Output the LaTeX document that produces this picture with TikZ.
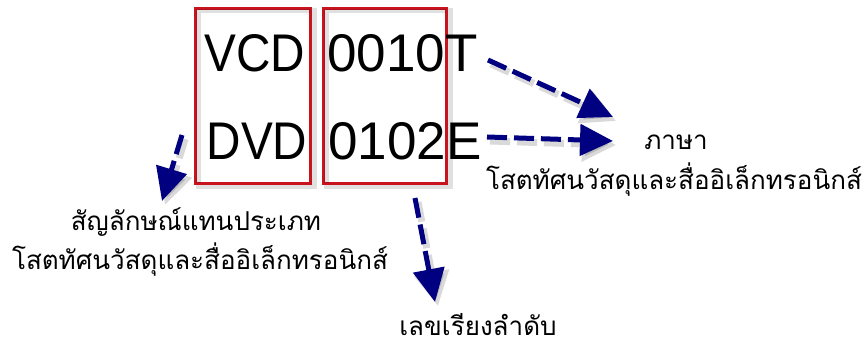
\documentclass[tikz,border=0pt]{standalone}
\usepackage{fontspec}
\setmainfont{Liberation Sans}
\newfontfamily\thaifont[Script=Thai]{Loma}
\usetikzlibrary{arrows.meta}
\definecolor{arrowblue}{RGB}{0,0,128}
\definecolor{boxred}{RGB}{200,20,30}
\begin{document}
\begin{tikzpicture}[x=1pt,y=-1pt,
  redbox/.style={draw=boxred, line width=2pt, inner sep=0pt},
  boxshadow/.style={draw=black, opacity=0.12, line width=5pt},
  bigtext/.style={font=\fontsize{53}{60}\selectfont, inner sep=0pt, anchor=base},
  thaitext/.style={font=\thaifont\fontsize{26}{30}\selectfont, inner sep=0pt, anchor=base},
  dasharrow/.style={draw=arrowblue, line width=5pt, dash pattern=on 20pt off 7pt,
    -{Triangle[length=33pt,width=31pt]}},
  shadowarrow/.style={draw=black, opacity=0.15, line width=7pt, dash pattern=on 20pt off 7pt,
    -{Triangle[length=34pt,width=34pt]}}]
\useasboundingbox (0,0) rectangle (865,347);

% boxes
\node[redbox, minimum width=114pt, minimum height=174pt] (b1) at (253,96) {};
\node[redbox, minimum width=122pt, minimum height=174pt] (b2) at (385,96) {};
\draw[boxshadow] ([shift={(3,3)}]b1.north west) rectangle ([shift={(3,3)}]b1.south east);
\draw[boxshadow] ([shift={(3,3)}]b2.north west) rectangle ([shift={(3,3)}]b2.south east);
\draw[draw=boxred, line width=2pt] (b1.north west) rectangle (b1.south east);
\draw[draw=boxred, line width=2pt] (b2.north west) rectangle (b2.south east);

% big text
\node[bigtext] (vcd) at (255,72) {\scalebox{0.9}[1]{VCD}};
\node[bigtext] (dvd) at (257,160) {\scalebox{0.9}[1]{DVD}};
\node[bigtext, anchor=base west] (c1) at (327,72) {0010T};
\node[bigtext, anchor=base west] (c2) at (328,160) {0102E};

% thai labels
\node[thaitext] (t1) at (196,231) {สัญลักษณ์แทนประเภท};
\node[thaitext] (t2) at (200,270) {โสตทัศนวัสดุและสื่ออิเล็กทรอนิกส์};
\node[thaitext] (t3) at (676,150) {ภาษา};
\node[thaitext] (t4) at (674,190) {โสตทัศนวัสดุและสื่ออิเล็กทรอนิกส์};
\node[thaitext, text depth=0pt] (t5) at (478,336) {เลขเรียงลำดับ};

% arrow coordinates
\coordinate (s1) at (488,60);  \coordinate (e1) at (613,117);
\coordinate (s2) at (487,137); \coordinate (e2) at (613,141);
\coordinate (s3) at (182,135); \coordinate (e3) at (162,201);
\coordinate (s4) at (415,198); \coordinate (e4) at (435,302);

% shadows of arrows
\foreach \s/\e in {s1/e1,s2/e2,s3/e3,s4/e4}{
  \draw[shadowarrow] ([shift={(3,4)}]\s) -- ([shift={(3,4)}]\e);
}
% arrows
\draw[dasharrow] (s1) -- (e1);
\draw[dasharrow] (s2) -- (e2);
\draw[dasharrow] (s3) -- (e3);
\draw[dasharrow] (s4) -- (e4);
\end{tikzpicture}
\end{document}
